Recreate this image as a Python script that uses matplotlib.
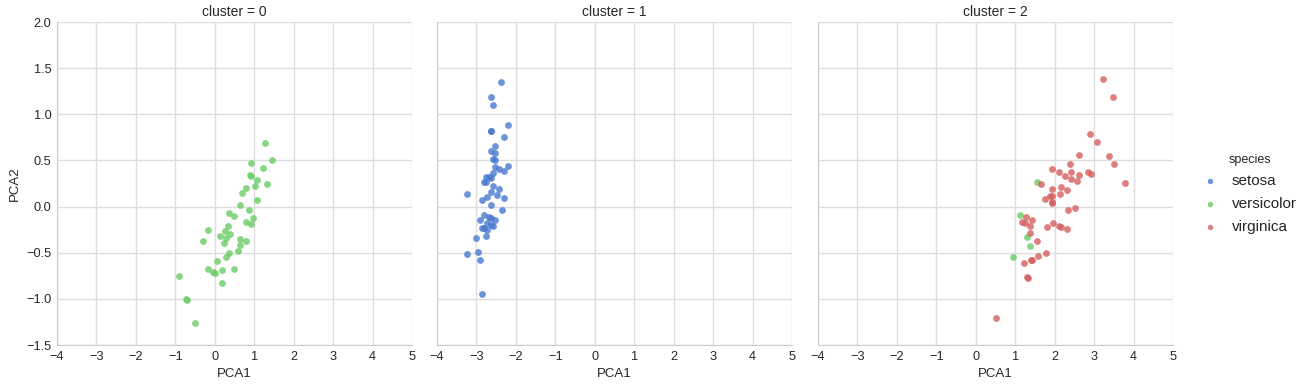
import matplotlib
matplotlib.use('Agg')
import matplotlib.pyplot as plt

# species colours (seaborn "muted")
colors = {'setosa': '#4878CF', 'versicolor': '#6ACC65', 'virginica': '#D65F5F'}
species = ['setosa', 'versicolor', 'virginica']

# cluster 0 - versicolor
c0_versicolor_x = [1.27, 1.46, 0.93, 1.21, 0.90, 0.93, 1.08, 1.33, 1.03, 0.80, 0.70, 1.08,
                   0.65, 0.88, 0.35, 0.50, 0.98, 0.80, 0.93, 0.33, -0.18, 0.25, 0.38, 0.14,
                   0.28, -0.30, 0.65, 0.23, 0.80, 0.65, 0.58, 0.35, 0.28, 0.05, -0.18, 0.48,
                   0.18, -0.05, 0.00, -0.90, 0.18, -0.73, -0.70, -0.50]
c0_versicolor_y = [0.685, 0.51, 0.467, 0.413, 0.337, 0.33, 0.283, 0.25, 0.228, 0.196, 0.152, 0.076,
                   0.022, -0.033, -0.065, -0.098, -0.12, -0.163, -0.185, -0.207, -0.25, -0.261, -0.293, -0.315,
                   -0.343, -0.37, -0.348, -0.40, -0.37, -0.413, -0.478, -0.50, -0.543, -0.587, -0.674, -0.674,
                   -0.685, -0.707, -0.717, -0.75, -0.826, -1.0, -1.007, -1.26]

# cluster 1 - setosa
c1_setosa_x = [-2.39, -2.64, -2.59, -2.21, -2.64, -2.62, -2.29, -2.52, -2.62, -2.54, -2.59, -2.54,
               -2.54, -2.21, -2.42, -2.31, -2.57, -2.75, -2.69, -2.64, -2.77, -2.80, -2.59, -2.42,
               -2.62, -3.23, -2.47, -2.72, -2.31, -2.87, -2.62, -2.36, -2.82, -2.67, -2.64, -2.90,
               -2.52, -2.72, -2.59, -2.64, -2.85, -2.80, -2.72, -2.75, -3.00, -3.23, -2.97, -2.90,
               -2.85]
c1_setosa_y = [1.349, 1.185, 1.098, 0.88, 0.815, 0.815, 0.749, 0.651, 0.607, 0.585, 0.52, 0.509,
               0.433, 0.444, 0.411, 0.389, 0.367, 0.324, 0.324, 0.313, 0.269, 0.269, 0.225, 0.193,
               0.16, 0.138, 0.127, 0.105, 0.095, 0.073, 0.018, -0.036, -0.091, -0.113, -0.124, -0.145,
               -0.145, -0.178, -0.211, -0.2, -0.233, -0.233, -0.255, -0.32, -0.342, -0.516, -0.495, -0.582,
               -0.942]

# cluster 2 - virginica
c2_virginica_x = [3.23, 3.49, 2.90, 3.08, 2.62, 3.38, 2.40, 3.51, 1.92, 2.12, 2.42, 2.85,
                  2.93, 2.27, 2.62, 2.42, 2.57, 3.79, 1.66, 2.17, 1.94, 2.32, 2.14, 1.89,
                  1.92, 1.76, 1.92, 1.94, 2.52, 2.35, 1.28, 1.43, 1.16, 1.26, 1.97, 1.38,
                  2.12, 2.17, 1.81, 2.32, 1.38, 1.54, 1.79, 1.59, 1.41, 1.43, 1.21, 1.31,
                  1.33, 0.52]
c2_virginica_y = [1.382, 1.185, 0.782, 0.695, 0.564, 0.553, 0.465, 0.465, 0.411, 0.378, 0.378, 0.378,
                  0.356, 0.335, 0.345, 0.302, 0.28, 0.258, 0.247, 0.215, 0.193, 0.182, 0.138, 0.116,
                  0.116, 0.084, 0.051, 0.04, -0.015, -0.036, -0.113, -0.145, -0.167, -0.178, -0.178, -0.211,
                  -0.211, -0.222, -0.222, -0.244, -0.287, -0.375, -0.505, -0.538, -0.582, -0.582, -0.615, -0.767,
                  -0.778, -1.204]

# cluster 2 - versicolor
c2_versicolor_x = [1.56, 1.11, 1.31, 1.38, 0.95]
c2_versicolor_y = [0.269, -0.091, -0.331, -0.429, -0.549]

panels = [
    {'setosa': ([], []), 'versicolor': (c0_versicolor_x, c0_versicolor_y), 'virginica': ([], [])},
    {'setosa': (c1_setosa_x, c1_setosa_y), 'versicolor': ([], []), 'virginica': ([], [])},
    {'setosa': ([], []), 'versicolor': (c2_versicolor_x, c2_versicolor_y),
     'virginica': (c2_virginica_x, c2_virginica_y)},
]

plt.rcParams['font.family'] = ['Liberation Sans', 'DejaVu Sans']
text_color = '#262626'

W, H = 1313, 387
fig = plt.figure(figsize=(W / 100, H / 100), dpi=100)
lefts = [57, 437, 818]
handles = {}
for i, data in enumerate(panels):
    ax = fig.add_axes([lefts[i] / W, 1 - 345 / H, 355 / W, 323 / H])
    for sp in species:
        xs, ys = data[sp]
        h = ax.scatter(xs, ys, s=24, color=colors[sp], alpha=0.8, linewidths=0)
        handles[sp] = h
    ax.set_xlim(-4, 5)
    ax.set_ylim(-1.5, 2.0)
    ax.set_xticks(range(-4, 6))
    ax.set_yticks([-1.5, -1.0, -0.5, 0.0, 0.5, 1.0, 1.5, 2.0])
    ax.grid(True, color='#DDDDDD', linewidth=1)
    ax.set_axisbelow(True)
    for s in ['top', 'right']:
        ax.spines[s].set_visible(False)
    for s in ['left', 'bottom']:
        ax.spines[s].set_color('#CCCCCC')
    ax.tick_params(length=0, labelsize=9.2, colors=text_color, pad=4)
    ax.set_xlabel('PCA1', fontsize=9.5, color=text_color, labelpad=4)
    ax.set_title('cluster = %d' % i, fontsize=10, color=text_color, pad=4)
    if i == 0:
        ax.set_ylabel('PCA2', fontsize=9.5, color=text_color)
    else:
        ax.tick_params(labelleft=False)

leg = fig.legend([handles[sp] for sp in species], species, title='species',
                 loc='upper left', bbox_to_anchor=(1196 / W, 1 - 146 / H), frameon=False,
                 fontsize=11, title_fontsize=9, markerscale=0.8, borderpad=0,
                 handlelength=0.8, handletextpad=1.05, labelspacing=0.58)
for t in leg.get_texts():
    t.set_color(text_color)
leg.get_title().set_color(text_color)

fig.savefig('out.png', dpi=100)
